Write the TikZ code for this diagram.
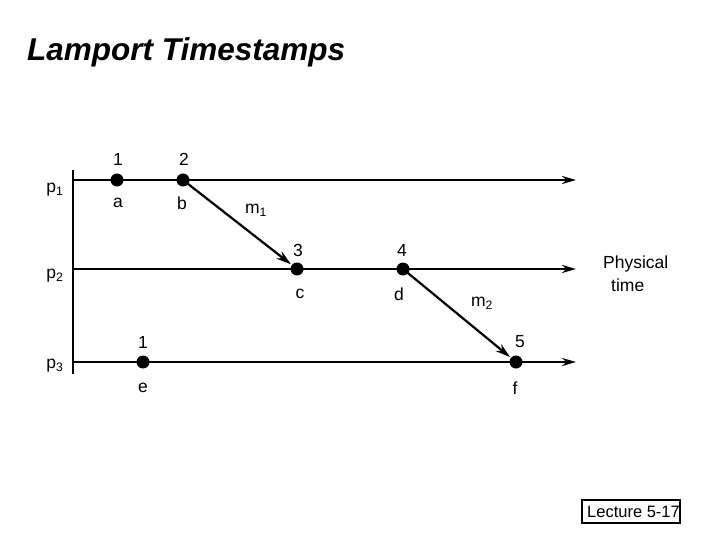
\documentclass[tikz,border=0pt]{standalone}
\usepackage{fontspec}
\setmainfont{Liberation Sans}
\usetikzlibrary{arrows.meta}
\begin{document}
\begin{tikzpicture}[x=1pt,y=-1pt,
  proc/.style={line width=2.4pt,-{Stealth[length=14pt,width=8pt]}},
  msg/.style={line width=2.2pt,-{Stealth[length=15pt,width=9pt]},shorten >=1pt},
  ev/.style={circle,fill=black,inner sep=0pt,minimum size=13pt},
  lbl/.style={font=\fontsize{17.5}{19}\selectfont,inner sep=0pt},
  txt/.style={font=\fontsize{17.5}{20}\selectfont,inner sep=0pt}]
\useasboundingbox (0,0) rectangle (720,540);
% title
\node[anchor=west,inner sep=0pt,font=\fontsize{31.5}{34}\selectfont\bfseries\itshape] (title) at (27,52) {Lamport Timestamps};
% axis
\coordinate (ax1) at (73,170);
\coordinate (ax2) at (73,374);
\draw[line width=2.4pt] (ax1) -- (ax2);
% process lines
\coordinate (s1) at (73,180); \coordinate (e1) at (576,180);
\coordinate (s2) at (73,269); \coordinate (e2) at (576,269);
\coordinate (s3) at (73,362); \coordinate (e3) at (576,362);
\draw[proc] (s1) -- (e1);
\draw[proc] (s2) -- (e2);
\draw[proc] (s3) -- (e3);
% events
\node[ev] (a) at (117,180) {};
\node[ev] (b) at (183,180) {};
\node[ev] (c) at (297,269) {};
\node[ev] (d) at (403,269) {};
\node[ev] (e) at (143,362) {};
\node[ev] (f) at (516,362) {};
% messages
\draw[msg] (b.center) -- (c);
\draw[msg] (d.center) -- (f);
% process labels
\node[lbl] (p1) at (55,190) {p\textsubscript{1}};
\node[lbl] (p2) at (55,276) {p\textsubscript{2}};
\node[lbl] (p3) at (55,366) {p\textsubscript{3}};
% timestamps
\node[lbl] (ta) at (118,159) {1};
\node[lbl] (tb) at (184,159) {2};
\node[lbl] (tc) at (298,250) {3};
\node[lbl] (td) at (402,250) {4};
\node[lbl] (te) at (143,342) {1};
\node[lbl] (tf) at (520,342) {5};
% event names
\node[lbl] (na) at (118,203) {a};
\node[lbl] (nb) at (182,203) {b};
\node[lbl] (nc) at (300,294) {c};
\node[lbl] (nd) at (399,294) {d};
\node[lbl] (ne) at (143,388) {e};
\node[lbl] (nf) at (515,388) {f};
% message labels
\node[lbl] (m1) at (256,210) {m\textsubscript{1}};
\node[lbl] (m2) at (482,303) {m\textsubscript{2}};
% physical time
\node[txt,anchor=west] (phys) at (603,264) {Physical};
\node[txt,anchor=west] (time) at (611,285) {time};
% lecture box
\draw[line width=1.8pt] (582,500) rectangle (680,523);
\node[txt,anchor=west,font=\fontsize{16.5}{19}\selectfont] (lec) at (587,512) {Lecture 5-17};
\end{tikzpicture}
\end{document}
